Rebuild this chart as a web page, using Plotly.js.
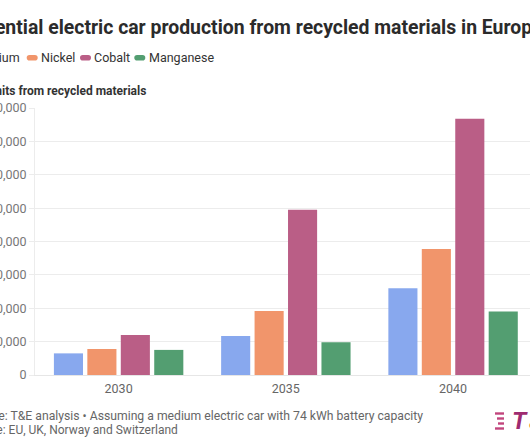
<!DOCTYPE html>
<html>
<head>
<meta charset="utf-8">
<script src="https://cdn.plot.ly/plotly-3.0.1.min.js"></script>
<style>
html,body{margin:0;padding:0;overflow:hidden;background:#fff;}
#chart{width:530px;height:442px;}
</style>
</head>
<body>
<div id="chart"></div>
<script>
// ---- data ----
const years = ["2030", "2035", "2040"];
const lithium   = [162000, 293000, 650000];
const nickel    = [195000, 480000, 943000];
const cobalt    = [300000, 1237000, 1920000];
const manganese = [188000, 245000, 475000];
const seriesNames = ["Lithium", "Nickel", "Cobalt", "Manganese"];
const yTicks = [0, 250000, 500000, 750000, 1000000, 1250000, 1500000, 1750000, 2000000];

const titleText = "Potential electric car production from recycled materials in Europe";
const yTitleText = "Electric car units from recycled materials";
const sourceText = "Source: T&E analysis • Assuming a medium electric car with 74 kWh battery capacity";
const noteText = "Note: EU, UK, Norway and Switzerland";

// ---- styling ----
const colors = ["#88a8ee", "#f1956b", "#ba5e86", "#539e71"];
const FONT = "Roboto, 'Open Sans', sans-serif";
const M = {l: 35, r: 0, t: 108, b: 67};
const W = 530, H = 442;
const PW = W - M.l - M.r, PH = H - M.t - M.b;
const px = x => (x - M.l) / PW;
const py = y => (H - M.b - y) / PH;

const seriesData = [lithium, nickel, cobalt, manganese];
const traces = seriesData.map((vals, i) => ({
  type: "bar",
  name: seriesNames[i],
  x: years,
  y: vals,
  marker: {color: colors[i], line: {width: 0}},
  showlegend: false,
  hoverinfo: "none"
}));

const annotations = [];
const shapes = [];
function txt(text, x, y, opts) {
  annotations.push(Object.assign({
    text: text, xref: "paper", yref: "paper", x: px(x), y: py(y),
    xanchor: "left", yanchor: "middle", showarrow: false,
    font: {family: FONT, size: 12, color: "#333"}
  }, opts || {}));
}
// title
txt("<b>" + titleText + "</b>", -37, 28, {font: {family: FONT, size: 19.4, color: "#2b2b2b"}});
// legend
const legendSym = [null, 26.7, 80, 134.3];
const legendTxt = [21, 40, 92.5, 147.5];
function pill(x0, x1, yc, color) {
  const h = 2.8, r = 2.8;
  const a = px(x0), b = px(x1), ar = px(x0 + r), br = px(x1 - r);
  const t = py(yc - h), m = py(yc), bo = py(yc + h);
  shapes.push({type: "path", xref: "paper", yref: "paper",
    path: `M${ar},${t} L${br},${t} Q${b},${t} ${b},${m} Q${b},${bo} ${br},${bo} L${ar},${bo} Q${a},${bo} ${a},${m} Q${a},${t} ${ar},${t} Z`,
    fillcolor: color, line: {width: 0}});
}
seriesNames.forEach((n, i) => {
  if (i === 0) {
    pill(-60, -49, 57.8, colors[0]);
    txt(n, legendTxt[0] + 1, 57.8, {xanchor: "right", font: {family: FONT, size: 12.5, color: "#333"}});
  } else {
    pill(legendSym[i], legendSym[i] + 11, 57.8, colors[i]);
    txt(n, legendTxt[i] - 1, 57.8, {font: {family: FONT, size: 12.5, color: "#333"}});
  }
});
// y-axis title
txt("<b>" + yTitleText + "</b>", 148, 91, {xanchor: "right", font: {family: FONT, size: 12, color: "#333"}});
// footer
txt(sourceText, 425, 415.5, {xanchor: "right", font: {family: FONT, size: 12.2, color: "#666"}});
txt(noteText, 180, 430, {xanchor: "right", font: {family: FONT, size: 12, color: "#666"}});
// logo
const stripes = [[495, 504, 413.5], [497, 504, 418.5], [498, 504, 423.5], [495, 504, 428.5]];
stripes.forEach(s => shapes.push({type: "line", xref: "paper", yref: "paper",
  x0: px(s[0]), x1: px(s[1]), y0: py(s[2]), y1: py(s[2]), line: {color: "#c2457d", width: 2.4}}));
txt("<b><i>T</i></b>", 510, 421, {font: {family: FONT, size: 24, color: "#9e2b70"}});
txt("<b><i>&</i></b>", 527, 422, {font: {family: FONT, size: 20, color: "#f08a3c"}});

const layout = {
  width: W, height: H,
  margin: M,
  paper_bgcolor: "#fff", plot_bgcolor: "#fff",
  barmode: "group", bargap: 0.2, bargroupgap: 0.13,
  font: {family: FONT, size: 12, color: "#666"},
  xaxis: {
    type: "category", range: [-0.5, 2.46], showgrid: false, zeroline: false,
    showline: true, linecolor: "#e6e6e6", linewidth: 1, ticks: "",
    ticklabelstandoff: 2,
    tickfont: {family: FONT, size: 12.5, color: "#666"}, automargin: false
  },
  yaxis: {
    range: [0, 2000000], tickvals: yTicks, tickformat: ",d",
    showgrid: true, gridcolor: "#ececec", gridwidth: 1, zeroline: false,
    showline: true, linecolor: "#ececec", ticks: "outside", ticklen: 5,
    tickcolor: "#ececec", tickfont: {family: FONT, size: 12.5, color: "#777"},
    automargin: false
  },
  annotations: annotations,
  shapes: shapes,
  showlegend: false
};
Plotly.newPlot("chart", traces, layout, {staticPlot: true, displayModeBar: false});
</script>
</body>
</html>
